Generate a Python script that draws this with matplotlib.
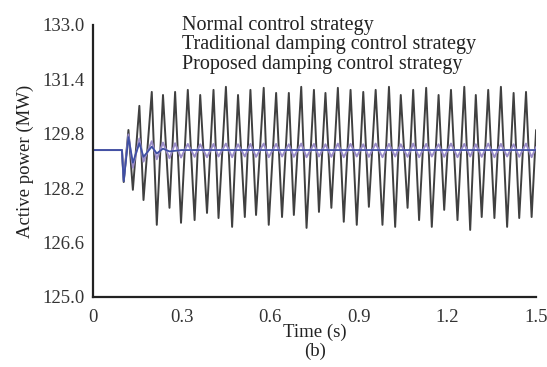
import matplotlib
matplotlib.use('Agg')
import matplotlib.pyplot as plt
from matplotlib.ticker import FixedLocator, FormatStrFormatter

# extrema of the normal-control response
t_normal = [0.0, 0.098, 0.104, 0.120, 0.135, 0.157, 0.171, 0.199, 0.216, 0.237, 0.259,
            0.278, 0.298, 0.321, 0.344, 0.363, 0.386, 0.408, 0.425, 0.450, 0.471,
            0.491, 0.514, 0.533, 0.552, 0.578, 0.595, 0.620, 0.640, 0.663, 0.680,
            0.705, 0.723, 0.748, 0.765, 0.787, 0.807, 0.829, 0.849, 0.872, 0.893,
            0.915, 0.934, 0.957, 0.980, 1.002, 1.023, 1.042, 1.065, 1.084, 1.104,
            1.128, 1.147, 1.170, 1.189, 1.212, 1.234, 1.257, 1.277, 1.296, 1.316,
            1.338, 1.359, 1.381, 1.402, 1.424, 1.443, 1.466, 1.485, 1.500]
p_normal = [129.32, 129.32, 128.38, 129.91, 128.15, 130.62, 127.85, 131.03, 127.12, 130.94, 127.62,
            131.03, 127.18, 131.09, 127.26, 130.94, 127.47, 131.09, 127.32, 131.18, 127.06,
            130.94, 127.35, 131.09, 127.41, 131.15, 127.12, 131.00, 127.35, 131.00, 127.41,
            131.18, 127.03, 131.09, 127.50, 131.00, 127.62, 131.15, 127.21, 131.09, 127.12,
            131.03, 127.65, 131.09, 127.12, 131.18, 127.06, 130.94, 127.62, 131.09, 127.26,
            131.15, 127.06, 130.94, 127.56, 131.09, 127.26, 131.18, 126.97, 130.94, 127.35,
            131.09, 127.32, 131.18, 127.06, 131.00, 127.32, 131.03, 127.35, 129.90]

# traditional damping: small persistent oscillation, same sampling instants
p_trad = [129.32, 129.32, 128.45, 129.78, 128.80, 129.66, 128.98, 129.58, 129.05, 129.54, 129.08,
          129.52, 129.10, 129.50, 129.12, 129.49, 129.11, 129.50, 129.13, 129.51, 129.11,
          129.49, 129.13, 129.50, 129.12, 129.51, 129.11, 129.50, 129.13, 129.49, 129.12,
          129.51, 129.11, 129.50, 129.13, 129.49, 129.12, 129.51, 129.11, 129.50, 129.13,
          129.49, 129.12, 129.51, 129.11, 129.50, 129.13, 129.49, 129.12, 129.51, 129.11,
          129.50, 129.13, 129.49, 129.12, 129.51, 129.11, 129.50, 129.13, 129.49, 129.12,
          129.51, 129.11, 129.50, 129.13, 129.49, 129.12, 129.51, 129.11, 129.40]

# proposed damping: settles after a few swings
t_prop = [0.0, 0.098, 0.104, 0.120, 0.135, 0.157, 0.171, 0.199, 0.216, 0.237, 0.259, 0.30, 1.5]
p_prop = [129.32, 129.32, 128.40, 129.70, 128.95, 129.52, 129.12, 129.42, 129.22, 129.36, 129.28, 129.32, 129.32]

labels = ['Normal control strategy',
          'Traditional damping control strategy',
          'Proposed damping control strategy']
x_ticks = [0, 0.3, 0.6, 0.9, 1.2, 1.5]
y_ticks = [125.0, 126.6, 128.2, 129.8, 131.4, 133.0]

plt.rcParams['font.family'] = 'Liberation Serif'

fig = plt.figure(figsize=(5.47, 3.67), dpi=100)
ax = fig.add_axes([0.170, 0.191, 0.810, 0.741])

ax.plot(t_normal, p_normal, color='#404040', lw=1.4, label=labels[0])
ax.plot(t_normal, p_trad, color='#9a8cc8', lw=1.4, label=labels[1])
ax.plot(t_prop, p_prop, color='#3f4fa3', lw=1.3, label=labels[2])

ax.set_xlim(0, 1.5)
ax.set_ylim(125.0, 133.0)
ax.xaxis.set_major_locator(FixedLocator(x_ticks))
ax.yaxis.set_major_locator(FixedLocator(y_ticks))
ax.xaxis.set_major_formatter(matplotlib.ticker.FuncFormatter(lambda v, p: '0' if v == 0 else '%g' % v))
ax.yaxis.set_major_formatter(FormatStrFormatter('%.1f'))
ax.tick_params(length=0, labelsize=13.5, colors='#333333')
ax.tick_params(axis='x', pad=9)
ax.tick_params(axis='y', pad=6)

for s in ['top', 'right']:
    ax.spines[s].set_visible(False)
for s in ['left', 'bottom']:
    ax.spines[s].set_linewidth(1.6)
    ax.spines[s].set_color('#222222')

ax.set_xlabel('Time (s)', fontsize=13.5, color='#222222', labelpad=-2)
ax.set_ylabel('Active power (MW)', fontsize=13.5, color='#222222', labelpad=6)
fig.text(0.576, 0.043, '(b)', fontsize=13.5, color='#222222', ha='center', va='center')

leg = ax.legend(loc='upper left', bbox_to_anchor=(0.333, 0.958), bbox_transform=fig.transFigure,
                frameon=False, handlelength=0, handletextpad=0, borderpad=0, borderaxespad=0,
                labelspacing=0.02, fontsize=14.5)
for h in leg.legend_handles:
    h.set_visible(False)
for txt in leg.get_texts():
    txt.set_color('#222222')

fig.savefig('out.png', dpi=100)
